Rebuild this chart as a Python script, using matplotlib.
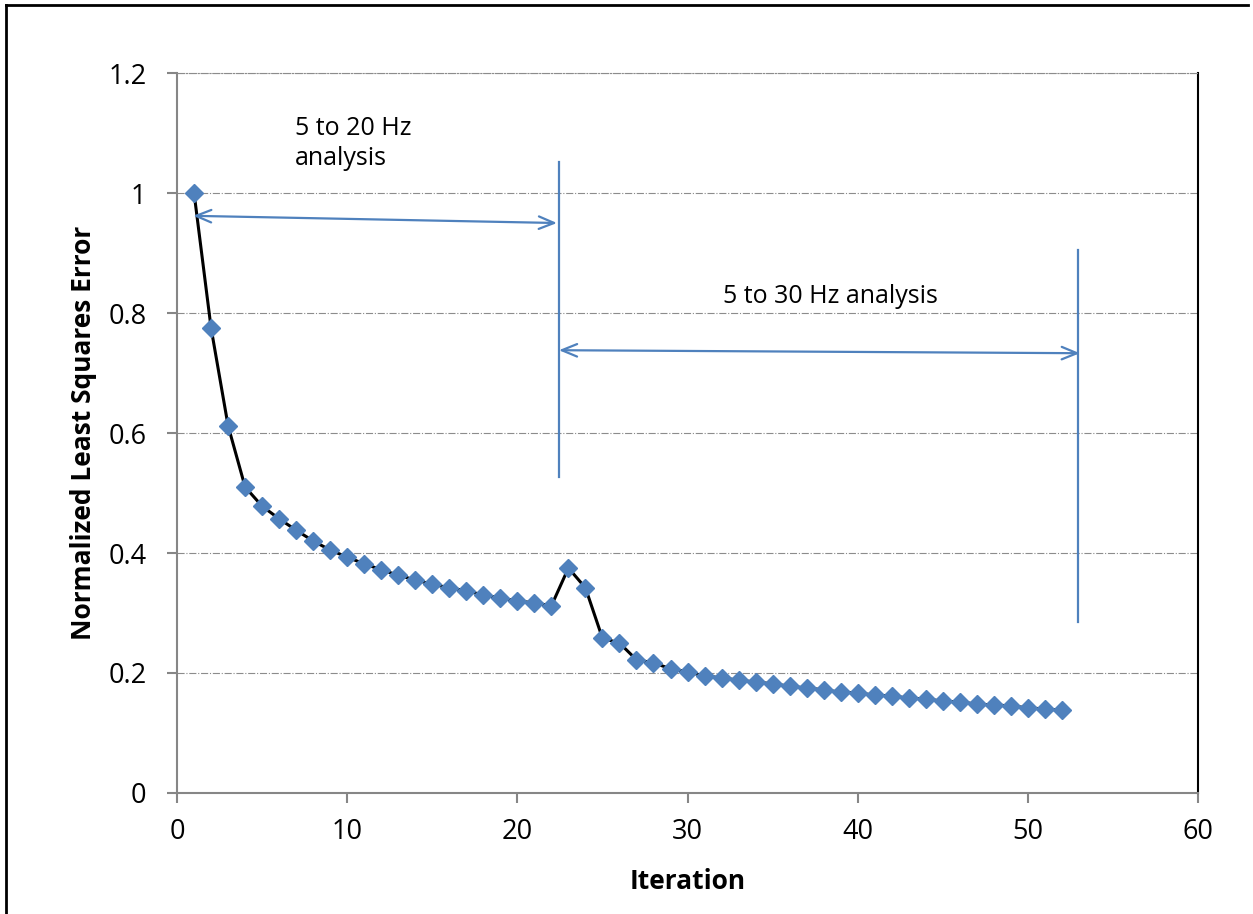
import matplotlib.pyplot as plt
from matplotlib.lines import Line2D
from matplotlib.ticker import FuncFormatter

iterations = list(range(1, 53))
error = [1.0, 0.775, 0.612, 0.51, 0.478, 0.457, 0.438, 0.42, 0.405, 0.393,
         0.382, 0.372, 0.363, 0.355, 0.348, 0.342, 0.337, 0.330, 0.325, 0.320,
         0.317, 0.312, 0.375, 0.342, 0.258, 0.25, 0.222, 0.217, 0.207, 0.202,
         0.195, 0.192, 0.188, 0.185, 0.182, 0.178, 0.175, 0.172, 0.168, 0.167,
         0.163, 0.162, 0.158, 0.157, 0.153, 0.152, 0.148, 0.147, 0.145, 0.142,
         0.14, 0.138]

plt.rcParams['font.family'] = ['Open Sans', 'DejaVu Sans']
blue = '#4F81BD'
gray = '#868686'

fig = plt.figure(figsize=(12.53, 9.14), dpi=100)
ax = fig.add_axes([0.1413, 0.1324, 0.8148, 0.7877])

ax.plot(iterations, error, color='black', lw=2.2, marker='D', markersize=9,
        markerfacecolor=blue, markeredgecolor=blue, zorder=3)

ax.set_xlim(0, 60)
ax.set_ylim(0, 1.2)
ax.set_xticks(range(0, 61, 10))
ax.set_yticks([0, 0.2, 0.4, 0.6, 0.8, 1.0, 1.2])
ax.yaxis.set_major_formatter(FuncFormatter(lambda v, p: f'{v:g}'))
ax.tick_params(axis='both', labelsize=19.5, color=gray, width=1.5, length=7, direction='out')
ax.tick_params(axis='x', pad=11)
ax.tick_params(axis='y', pad=15)

ax.grid(axis='y', color='#8c8c8c', linestyle='-.', linewidth=0.8)
ax.set_axisbelow(True)
for side in ['left', 'bottom']:
    ax.spines[side].set_color(gray)
    ax.spines[side].set_linewidth(1.5)
ax.spines['top'].set_color('#8c8c8c')
ax.spines['top'].set_linestyle('-.')
ax.spines['top'].set_linewidth(0.8)
ax.spines['right'].set_color('black')
ax.spines['right'].set_linewidth(1.5)

ax.set_xlabel('Iteration', fontsize=19, fontweight='bold', labelpad=16)
ax.set_ylabel('Normalized Least Squares Error', fontsize=19, fontweight='bold', labelpad=8)

# annotation lines and arrows
ax.plot([22.44, 22.44], [0.527, 1.052], color=blue, lw=1.6, clip_on=False)
ax.plot([52.94, 52.94], [0.285, 0.905], color=blue, lw=1.6, clip_on=False)
arrow = dict(arrowstyle='<->, head_length=1.1, head_width=0.45', color=blue, lw=1.6,
             shrinkA=0, shrinkB=0)
ax.annotate('', xy=(22.33, 0.95), xytext=(0.94, 0.962), arrowprops=arrow)
ax.annotate('', xy=(53.06, 0.733), xytext=(22.44, 0.738), arrowprops=arrow)

ax.text(6.93, 1.083, '5 to 20 Hz\nanalysis', fontsize=18, ha='left', va='center',
        linespacing=1.25)
ax.text(32.08, 0.827, '5 to 30 Hz analysis', fontsize=18, ha='left', va='center')

# outer chart frame (left and top edges)
fig.add_artist(Line2D([0.0048, 0.0048], [0.0, 0.9945], color='black', lw=2,
                      transform=fig.transFigure))
fig.add_artist(Line2D([0.0048, 0.996], [0.9945, 0.9945], color='black', lw=2,
                      transform=fig.transFigure))

fig.savefig('out.png', dpi=100)
